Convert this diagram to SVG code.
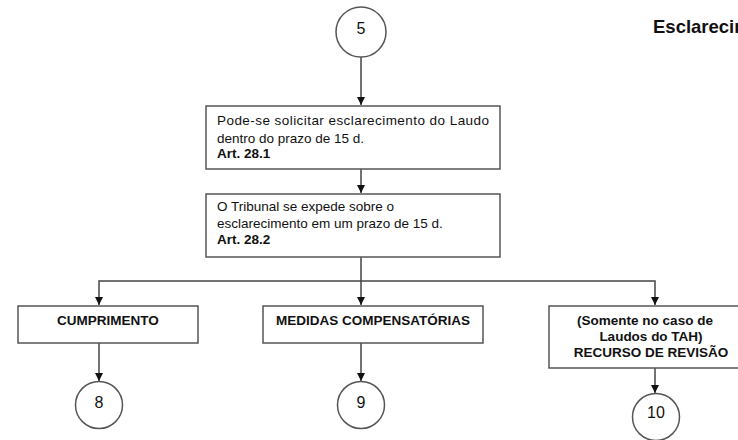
<svg xmlns="http://www.w3.org/2000/svg" width="738" height="440" viewBox="0 0 738 440">
<style>
.box{fill:#fff;stroke:#555;stroke-width:1.5}
.circ{fill:#fff;stroke:#555;stroke-width:1.5}
.t{font-family:"Liberation Sans",Arial,sans-serif;font-size:13.5px;fill:#111}
.d{font-size:16px}
.b{font-weight:bold}
.c{text-anchor:middle}
.con{fill:none;stroke:#444;stroke-width:1.5}
</style>
<defs>
<marker id="arr" viewBox="0 0 10 10" refX="10" refY="5" markerWidth="8" markerHeight="8" markerUnits="userSpaceOnUse" orient="auto">
<path d="M0,0 L10,5 L0,10 z" fill="#111"/>
</marker>
</defs>
<rect width="738" height="440" fill="#fff"/>
<text class="t b" x="653" y="33" style="font-size:18.5px">Esclarecimento</text>
<g id="connectors">
<path class="con" d="M361,57 V105" marker-end="url(#arr)"/>
<path class="con" d="M361,169 V193" marker-end="url(#arr)"/>
<path class="con" d="M361,257 V305" marker-end="url(#arr)"/>
<path class="con" d="M361,281 H99 V305" marker-end="url(#arr)"/>
<path class="con" d="M361,281 H655 V305" marker-end="url(#arr)"/>
<path class="con" d="M99,343 V381" marker-end="url(#arr)"/>
<path class="con" d="M361,343 V381" marker-end="url(#arr)"/>
<path class="con" d="M655,368 V393" marker-end="url(#arr)"/>
</g>
<g id="n5">
<circle class="circ" cx="361" cy="32" r="25"/>
<text class="t d c" x="361" y="34">5</text>
</g>
<g id="box1">
<rect class="box" x="206" y="106" width="294" height="63"/>
<text class="t" x="217" y="125" textLength="272" lengthAdjust="spacing">Pode-se solicitar esclarecimento do Laudo</text>
<text class="t" x="217" y="143">dentro do prazo de 15 d.</text>
<text class="t b" x="217" y="158">Art. 28.1</text>
</g>
<g id="box2">
<rect class="box" x="206" y="194" width="294" height="63"/>
<text class="t" x="217" y="211">O Tribunal se expede sobre o</text>
<text class="t" x="217" y="228">esclarecimento em um prazo de 15 d.</text>
<text class="t b" x="217" y="244">Art. 28.2</text>
</g>
<g id="cumprimento">
<rect class="box" x="18" y="306" width="180" height="37"/>
<text class="t b c" x="108" y="325">CUMPRIMENTO</text>
</g>
<g id="medidas">
<rect class="box" x="263" y="306" width="220" height="37"/>
<text class="t b c" x="373" y="325">MEDIDAS COMPENSATÓRIAS</text>
</g>
<g id="recurso">
<rect class="box" x="549" y="306" width="200" height="62"/>
<text class="t b c" x="645" y="325">(Somente no caso de</text>
<text class="t b c" x="651" y="341">Laudos do TAH)</text>
<text class="t b c" x="651" y="357">RECURSO DE REVISÃO</text>
</g>
<g id="n8">
<circle class="circ" cx="99" cy="405" r="23.5"/>
<text class="t d c" x="99" y="408">8</text>
</g>
<g id="n9">
<circle class="circ" cx="361" cy="405" r="23.5"/>
<text class="t d c" x="361" y="408">9</text>
</g>
<g id="n10">
<circle class="circ" cx="656" cy="417" r="23.5"/>
<text class="t d c" x="656" y="418">10</text>
</g>
</svg>
